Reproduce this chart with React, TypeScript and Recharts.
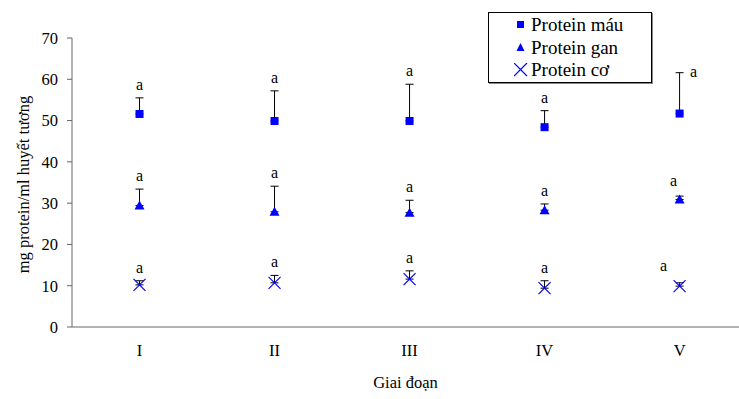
import React from 'react'
import { ScatterChart, Scatter, XAxis, YAxis, ErrorBar, LabelList } from 'recharts'

const stages = ['I', 'II', 'III', 'IV', 'V']
const mau = [51.6, 49.9, 49.9, 48.4, 51.7]
const mauErr = [3.9, 7.3, 8.9, 4.0, 9.9]
const gan = [29.4, 27.9, 27.7, 28.3, 30.9]
const ganErr = [4.0, 6.2, 3.0, 1.5, 0.8]
const co = [10.2, 10.7, 11.6, 9.4, 9.9]
const coErr = [1.0, 1.8, 2.0, 1.8, 0.8]
const sigMau = ['a', 'a', 'a', 'a', 'a']
const sigGan = ['a', 'a', 'a', 'a', 'a']
const sigCo = ['a', 'a', 'a', 'a', 'a']
const yTicks = [0, 10, 20, 30, 40, 50, 60, 70]

const BLUE = '#0000ff'
const FONT = '"Liberation Serif", "Times New Roman", serif'

const rows = stages.map((s, i) => ({
  x: i + 1,
  stage: s,
  mau: mau[i],
  mauErr: [0, mauErr[i]],
  mauTop: mau[i] + mauErr[i],
  sigMau: sigMau[i],
  gan: gan[i],
  ganErr: [0, ganErr[i]],
  ganTop: gan[i] + ganErr[i],
  sigGan: sigGan[i],
  co: co[i],
  coErr: [0, coErr[i]],
  coTop: co[i] + coErr[i],
  sigCo: sigCo[i],
}))

const Square = (p: any) => <rect x={p.cx - 4} y={p.cy - 4} width={8} height={8} fill={BLUE} />
const Tri = (p: any) => (
  <polygon points={`${p.cx},${p.cy - 5} ${p.cx + 5},${p.cy + 4} ${p.cx - 5},${p.cy + 4}`} fill={BLUE} />
)
const Cross = (p: any) => (
  <g stroke={BLUE} strokeWidth={1.2}>
    <line x1={p.cx - 6} y1={p.cy - 6} x2={p.cx + 6} y2={p.cy + 6} />
    <line x1={p.cx - 6} y1={p.cy + 6} x2={p.cx + 6} y2={p.cy - 6} />
  </g>
)
const Empty = () => <g />

// "a" sits above the top of each error bar; column V is nudged as in the original
const sigLabel = (series: string) => (p: any) => {
  const cx = p.x + (p.width || 0) / 2
  const cy = p.y + (p.height || 0) / 2
  let dx = 0
  let dy = -8
  if (p.index === 4) {
    if (series === 'mau') { dx = 14; dy = 4 }
    else if (series === 'gan') { dx = -6; dy = -10 }
    else { dx = -16; dy = -12 }
  }
  return (
    <text x={cx + dx} y={cy + dy} textAnchor="middle" fontFamily={FONT} fontSize={16} fill="#000">
      {p.value}
    </text>
  )
}

const legendItems = [
  { name: 'Protein máu', icon: <rect x={3} y={3} width={7} height={7} fill={BLUE} /> },
  { name: 'Protein gan', icon: <polygon points="6.5,2 10.5,10 2.5,10" fill={BLUE} /> },
  {
    name: 'Protein cơ',
    icon: (
      <g stroke={BLUE} strokeWidth={1.2}>
        <line x1={0} y1={0} x2={13} y2={13} />
        <line x1={0} y1={13} x2={13} y2={0} />
      </g>
    ),
  },
]

const LegendBox = () => (
  <div
    style={{
      position: 'absolute',
      left: 488,
      top: 12,
      border: '1px solid #000',
      boxShadow: '1px 1px 0 #888',
      background: '#fff',
      width: 164,
      height: 71,
      boxSizing: 'border-box',
      paddingTop: 1,
      fontFamily: FONT,
      fontSize: 19,
      lineHeight: '22px',
      color: '#000',
    }}
  >
    {legendItems.map((it) => (
      <div key={it.name} style={{ display: 'flex', alignItems: 'center', height: 22.5, paddingLeft: 25 }}>
        <svg width={14} height={14} style={{ marginRight: 3 }}>{it.icon}</svg>
        <span>{it.name}</span>
      </div>
    ))}
  </div>
)

const tickStyle = { fontFamily: FONT, fontSize: 16.5, fill: '#000' }

export default function App() {
  return (
    <div style={{ position: 'absolute', left: 0, top: 0, width: 739, height: 399, background: '#fff' }}>
      <ScatterChart width={739} height={399} margin={{ top: 38, right: 0, bottom: 0, left: 0 }}>
        <XAxis
          xAxisId="grid"
          type="number"
          dataKey="x"
          domain={[0.5, 5.44]}
          ticks={[0.5, 1.5, 2.5, 3.5, 4.5]}
          tickFormatter={() => ''}
          axisLine={false}
          tickSize={5}
          stroke="#666"
          height={0}
          allowDataOverflow
        />
        <XAxis
          type="number"
          dataKey="x"
          domain={[0.5, 5.44]}
          ticks={[1, 2, 3, 4, 5]}
          tickFormatter={(v) => stages[v - 1]}
          tickLine={false}
          tickSize={0}
          tickMargin={17}
          tick={tickStyle}
          stroke="#666"
          height={72}
          allowDataOverflow
          label={{ value: 'Giai đoạn', position: 'insideBottom', offset: 11, style: { fontFamily: FONT, fontSize: 16.5, fill: '#000' } }}
        />
        <YAxis
          type="number"
          domain={[0, 70]}
          ticks={yTicks}
          tick={tickStyle}
          tickSize={5}
          tickMargin={9}
          stroke="#666"
          width={72}
          label={{ value: 'mg protein/ml huyết tương', angle: -90, position: 'insideLeft', dx: 18, dy: 2, style: { textAnchor: 'middle', fontFamily: FONT, fontSize: 16.5, fill: '#000' } }}
        />
        <Scatter name="Protein máu" data={rows} dataKey="mau" shape={Square} isAnimationActive={false}>
          <ErrorBar dataKey="mauErr" direction="y" width={4} stroke="#000" strokeWidth={1} />
        </Scatter>
        <Scatter name="Protein gan" data={rows} dataKey="gan" shape={Tri} isAnimationActive={false}>
          <ErrorBar dataKey="ganErr" direction="y" width={4} stroke="#000" strokeWidth={1} />
        </Scatter>
        <Scatter name="Protein cơ" data={rows} dataKey="co" shape={Cross} isAnimationActive={false}>
          <ErrorBar dataKey="coErr" direction="y" width={4} stroke="#000" strokeWidth={1} />
        </Scatter>
        <Scatter data={rows} dataKey="mauTop" shape={Empty} legendType="none" isAnimationActive={false}>
          <LabelList dataKey="sigMau" content={sigLabel('mau')} />
        </Scatter>
        <Scatter data={rows} dataKey="ganTop" shape={Empty} legendType="none" isAnimationActive={false}>
          <LabelList dataKey="sigGan" content={sigLabel('gan')} />
        </Scatter>
        <Scatter data={rows} dataKey="coTop" shape={Empty} legendType="none" isAnimationActive={false}>
          <LabelList dataKey="sigCo" content={sigLabel('co')} />
        </Scatter>
      </ScatterChart>
      <LegendBox />
    </div>
  )
}
